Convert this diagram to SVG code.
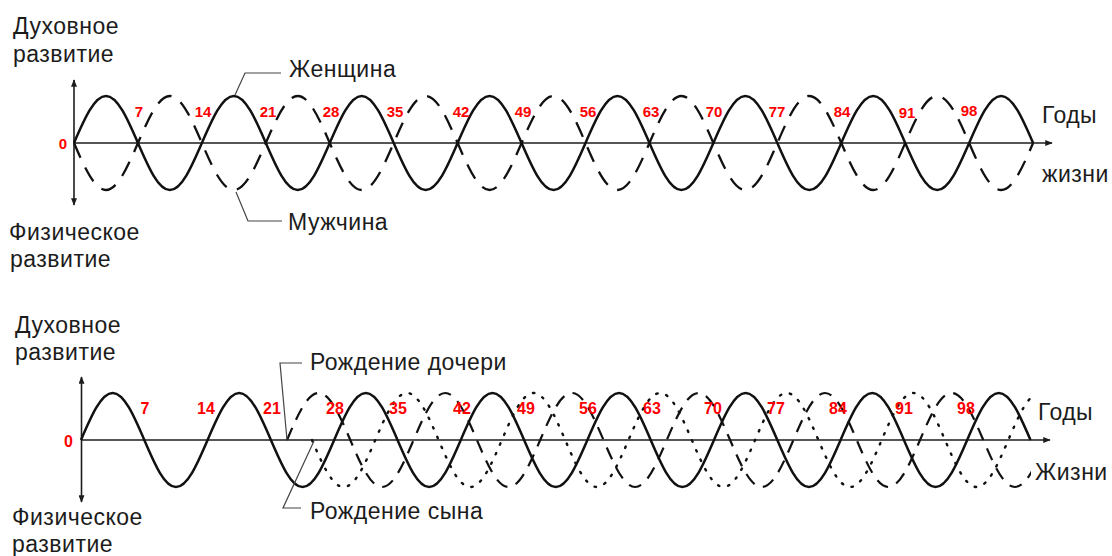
<svg xmlns="http://www.w3.org/2000/svg" width="1112" height="556" viewBox="0 0 1112 556">
<style>
.lbl{font-family:"Liberation Sans",Arial,sans-serif;font-size:23px;letter-spacing:0.5px;fill:#1c1c1c}
.num{font-family:"Liberation Sans",Arial,sans-serif;font-weight:bold;fill:#f00;text-anchor:middle}
.n1{font-size:15px}
.n2{font-size:16px}
.axis{stroke:#1c1c1c;stroke-width:1.6;fill:none}
.solid{stroke:#111;stroke-width:2.5;fill:none}
.dash{stroke:#111;stroke-width:2.3;fill:none;stroke-dasharray:16 11}
.dash2{stroke:#111;stroke-width:2.2;fill:none;stroke-dasharray:13 9}
.dot{stroke:#111;stroke-width:2.4;fill:none;stroke-dasharray:1.5 9;stroke-linecap:round}
.lead{stroke:#444;stroke-width:1.2;fill:none}
</style>
<defs>
<marker id="arr" viewBox="0 0 10 8" refX="9" refY="4" markerWidth="8" markerHeight="6" markerUnits="userSpaceOnUse" orient="auto-start-reverse"><path d="M0,0 L10,4 L0,8 z" fill="#1c1c1c"/></marker>
<clipPath id="clipB"><rect x="0" y="350" width="1031" height="160"/></clipPath>
</defs>
<rect width="1112" height="556" fill="#fff"/>

<g id="top-chart">
<line class="axis" x1="74" y1="143" x2="1052" y2="143" marker-end="url(#arr)"/>
<line class="axis" x1="74" y1="80" x2="74" y2="205" marker-start="url(#arr)" marker-end="url(#arr)"/>
<path id="woman" class="solid" d="M74,143 c10.42,-24.08 20.4,-47 31.97,-47
s21.54,22.92 31.97,47 s20.4,47 31.97,47 s21.54,-22.92 31.97,-47 s20.4,-47 31.97,-47
s21.54,22.92 31.97,47 s20.4,47 31.97,47 s21.54,-22.92 31.97,-47 s20.4,-47 31.97,-47
s21.54,22.92 31.97,47 s20.4,47 31.97,47 s21.54,-22.92 31.97,-47 s20.4,-47 31.97,-47
s21.54,22.92 31.97,47 s20.4,47 31.97,47 s21.54,-22.92 31.97,-47 s20.4,-47 31.97,-47
s21.54,22.92 31.97,47 s20.4,47 31.97,47 s21.54,-22.92 31.97,-47 s20.4,-47 31.97,-47
s21.54,22.92 31.97,47 s20.4,47 31.97,47 s21.54,-22.92 31.97,-47 s20.4,-47 31.97,-47
s21.54,22.92 31.97,47 s20.4,47 31.97,47 s21.54,-22.92 31.97,-47 s20.4,-47 31.97,-47
s21.54,22.92 31.97,47"/>
<path id="man" class="dash" d="M74,143 c10.42,24.08 20.4,47 31.97,47
s21.54,-22.92 31.97,-47 s20.4,-47 31.97,-47 s21.54,22.92 31.97,47 s20.4,47 31.97,47
s21.54,-22.92 31.97,-47 s20.4,-47 31.97,-47 s21.54,22.92 31.97,47 s20.4,47 31.97,47
s21.54,-22.92 31.97,-47 s20.4,-47 31.97,-47 s21.54,22.92 31.97,47 s20.4,47 31.97,47
s21.54,-22.92 31.97,-47 s20.4,-47 31.97,-47 s21.54,22.92 31.97,47 s20.4,47 31.97,47
s21.54,-22.92 31.97,-47 s20.4,-47 31.97,-47 s21.54,22.92 31.97,47 s20.4,47 31.97,47
s21.54,-22.92 31.97,-47 s20.4,-47 31.97,-47 s21.54,22.92 31.97,47 s20.4,47 31.97,47
s21.54,-22.92 31.97,-47 s20.4,-47 31.97,-47 s21.54,22.92 31.97,47 s20.4,47 31.97,47
s21.54,-22.92 31.97,-47"/>
<text class="num n1" x="63" y="149">0</text>
<text class="num n1" x="139" y="117">7</text>
<text class="num n1" x="203" y="117">14</text>
<text class="num n1" x="268" y="117">21</text>
<text class="num n1" x="331" y="117">28</text>
<text class="num n1" x="395" y="117">35</text>
<text class="num n1" x="461" y="117">42</text>
<text class="num n1" x="523" y="117">49</text>
<text class="num n1" x="588" y="117">56</text>
<text class="num n1" x="651" y="117">63</text>
<text class="num n1" x="714" y="117">70</text>
<text class="num n1" x="777" y="117">77</text>
<text class="num n1" x="842" y="117">84</text>
<text class="num n1" x="907" y="118">91</text>
<text class="num n1" x="969" y="116">98</text>
<text class="lbl" x="13" y="34">Духовное</text>
<text class="lbl" x="13" y="62">развитие</text>
<text class="lbl" x="9" y="240">Физическое</text>
<text class="lbl" x="10" y="267">развитие</text>
<text class="lbl" x="289" y="77">Женщина</text>
<text class="lbl" x="288" y="230">Мужчина</text>
<text class="lbl" x="1042" y="123">Годы</text>
<text class="lbl" x="1042" y="182">жизни</text>
</g>

<g id="bottom-chart">
<line class="axis" x1="81.5" y1="440" x2="1050" y2="440" marker-end="url(#arr)"/>
<line class="axis" x1="81.5" y1="377" x2="81.5" y2="502" marker-start="url(#arr)" marker-end="url(#arr)"/>
<path id="mother" class="solid" d="M81,440 c10.32,-24.08 20.2,-47 31.65,-47
s21.33,22.92 31.65,47 s20.2,47 31.65,47 s21.33,-22.92 31.65,-47 s20.2,-47 31.65,-47
s21.33,22.92 31.65,47 s20.2,47 31.65,47 s21.33,-22.92 31.65,-47 s20.2,-47 31.65,-47
s21.33,22.92 31.65,47 s20.2,47 31.65,47 s21.33,-22.92 31.65,-47 s20.2,-47 31.65,-47
s21.33,22.92 31.65,47 s20.2,47 31.65,47 s21.33,-22.92 31.65,-47 s20.2,-47 31.65,-47
s21.33,22.92 31.65,47 s20.2,47 31.65,47 s21.33,-22.92 31.65,-47 s20.2,-47 31.65,-47
s21.33,22.92 31.65,47 s20.2,47 31.65,47 s21.33,-22.92 31.65,-47 s20.2,-47 31.65,-47
s21.33,22.92 31.65,47 s20.2,47 31.65,47 s21.33,-22.92 31.65,-47 s20.2,-47 31.65,-47
s21.33,22.92 31.65,47"/>
<g clip-path="url(#clipB)">
<path id="daughter" class="dash2" d="M287,440 c10.32,-24.08 20.2,-47 31.65,-47
s21.33,22.92 31.65,47 s20.2,47 31.65,47 s21.33,-22.92 31.65,-47 s20.2,-47 31.65,-47
s21.33,22.92 31.65,47 s20.2,47 31.65,47 s21.33,-22.92 31.65,-47 s20.2,-47 31.65,-47
s21.33,22.92 31.65,47 s20.2,47 31.65,47 s21.33,-22.92 31.65,-47 s20.2,-47 31.65,-47
s21.33,22.92 31.65,47 s20.2,47 31.65,47 s21.33,-22.92 31.65,-47 s20.2,-47 31.65,-47
s21.33,22.92 31.65,47 s20.2,47 31.65,47 s21.33,-22.92 31.65,-47 s20.2,-47 31.65,-47
s21.33,22.92 31.65,47 s20.2,47 31.65,47 s21.33,-22.92 31.65,-47"/>
<path id="son" class="dot" d="M312,440 c10.32,24.08 20.2,47 31.65,47
s21.33,-22.92 31.65,-47 s20.2,-47 31.65,-47 s21.33,22.92 31.65,47 s20.2,47 31.65,47
s21.33,-22.92 31.65,-47 s20.2,-47 31.65,-47 s21.33,22.92 31.65,47 s20.2,47 31.65,47
s21.33,-22.92 31.65,-47 s20.2,-47 31.65,-47 s21.33,22.92 31.65,47 s20.2,47 31.65,47
s21.33,-22.92 31.65,-47 s20.2,-47 31.65,-47 s21.33,22.92 31.65,47 s20.2,47 31.65,47
s21.33,-22.92 31.65,-47 s20.2,-47 31.65,-47 s21.33,22.92 31.65,47 s20.2,47 31.65,47
s21.33,-22.92 31.65,-47 s20.2,-47 31.65,-47 s21.33,22.92 31.65,47"/>
</g>
<text class="num n2" x="68.5" y="447">0</text>
<text class="num n2" x="145" y="414">7</text>
<text class="num n2" x="206" y="414">14</text>
<text class="num n2" x="272" y="414">21</text>
<text class="num n2" x="335" y="414">28</text>
<text class="num n2" x="398" y="414">35</text>
<text class="num n2" x="462" y="414">42</text>
<text class="num n2" x="526" y="414">49</text>
<text class="num n2" x="588" y="414">56</text>
<text class="num n2" x="652" y="414">63</text>
<text class="num n2" x="713" y="414">70</text>
<text class="num n2" x="776" y="414">77</text>
<text class="num n2" x="838" y="414">84</text>
<text class="num n2" x="904" y="414">91</text>
<text class="num n2" x="966" y="414">98</text>
<text class="lbl" x="15" y="333">Духовное</text>
<text class="lbl" x="15" y="360">развитие</text>
<text class="lbl" x="12" y="525">Физическое</text>
<text class="lbl" x="12" y="552">развитие</text>
<text class="lbl" x="310" y="370">Рождение дочери</text>
<text class="lbl" x="310" y="519">Рождение сына</text>
<text class="lbl" x="1038" y="420">Годы</text>
<text class="lbl" x="1035" y="480">Жизни</text>
</g>

<g id="connectors">
<polyline class="lead" points="281,73 245,73 235,95"/>
<polyline class="lead" points="236,192 248,221 282,221"/>
<polyline class="lead" points="302,363 280,363 287,440"/>
<polyline class="lead" points="314,441 283,508 301,508"/>
</g>
</svg>
